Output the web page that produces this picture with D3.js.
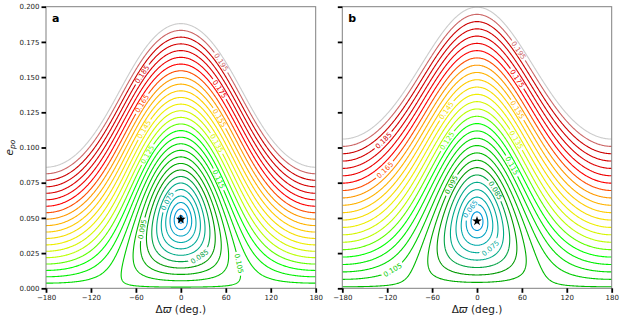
<!DOCTYPE html>
<html><head><meta charset="utf-8">
<script src="https://cdn.jsdelivr.net/npm/d3@7"></script>
<style>body{margin:0;background:#fff;} text{font-family:"DejaVu Sans",sans-serif;}</style>
</head><body><svg id="chart" width="623" height="321"></svg>
<script>
// ---------------- data ----------------
const panelNames = ["a", "b"];
const levels = [0.055,0.060,0.065,0.070,0.075,0.080,0.085,0.090,0.095,0.100,0.105,0.110,0.115,0.120,
  0.125,0.130,0.135,0.140,0.145,0.150,0.155,0.160,0.165,0.170,0.175,0.180,0.185,0.190,0.195,0.200];
const colorRange = [0, 0.2];
const xTicks = [-180,-120,-60,0,60,120,180];
const xTickLabels = ["\u2212180","\u2212120","\u221260","0","60","120","180"];
const yTicks = [0,0.025,0.05,0.075,0.1,0.125,0.15,0.175,0.2];
const yTickLabels = ["0.000","0.025","0.050","0.075","0.100","0.125","0.150","0.175","0.200"];
// secular (Laplace-Lagrange like) model fitted to each panel: [offset, linear, quadratic, stretch, forced e]
const modelA = [0.052, 1.1102, -0.1918, 1.04, 0.049];
const modelB = [0.0537, 0.946, 0.0667, 1.0, 0.0477];
const starA = [0, 0.049];
const starB = [0, 0.0477];
// contour labels: [level, delta-varpi, e]
const labelsA = [[0.195,52,0.160],[0.185,-45.7,0.150],[0.175,49.8,0.141],[0.165,-45.7,0.129],[0.155,49,0.120],
  [0.145,-43.6,0.111],[0.135,47.6,0.103],[0.125,-41,0.094],[0.115,48.8,0.077],[0.105,69.7,0.0166],
  [0.095,-48,0.0415],[0.085,23,0.0237],[0.075,-17,0.0616]];
const labelsB = [[0.195,57.3,0.1696],[0.185,-122.7,0.1042],[0.175,55,0.1495],[0.165,-122.7,0.084],[0.155,55,0.127],
  [0.145,-42.7,0.127],[0.135,52.9,0.1055],[0.125,-42.7,0.1055],[0.115,50.7,0.088],[0.105,-118,0.0178],
  [0.095,-38,0.0747],[0.085,30.7,0.0712],[0.075,26.2,0.0225],[0.065,-16,0.059]];
// nipy_spectral colormap
const cmapStops = [0,0.05,0.1,0.15,0.2,0.25,0.3,0.35,0.4,0.45,0.5,0.55,0.6,0.65,0.7,0.75,0.8,0.85,0.9,0.95,1];
const cmapR = [0,0.4667,0.5333,0,0,0,0,0,0,0,0,0,0,0.7333,0.9333,1,1,1,0.8667,0.8,0.8];
const cmapG = [0,0,0,0,0,0.4667,0.6,0.6667,0.6667,0.6,0.7333,0.8667,1,1,0.9333,0.8,0.6,0,0,0,0.8];
const cmapB = [0,0.5333,0.6,0.6667,0.8667,0.8667,0.8667,0.6667,0.5333,0,0,0,0,0,0,0,0,0,0,0,0.8];

// ---------------- drawing ----------------
const svg = d3.select("#chart");
const color = d3.scaleLinear()
  .domain(cmapStops.map(s => colorRange[0] + s*(colorRange[1]-colorRange[0])))
  .range(cmapStops.map((s,i) => d3.rgb(cmapR[i]*255, cmapG[i]*255, cmapB[i]*255).toString()));
const fmt = d3.format(".3f");

const panels = [
  {name: panelNames[0], x0: 46, x1: 315.7, model: modelA, star: starA, labels: labelsA, yLabels: true},
  {name: panelNames[1], x0: 342.3, x1: 611.7, model: modelB, star: starB, labels: labelsB, yLabels: false}
];
const yTop = 6.7, yBot = 288.3;

function field(m, th, e) {
  const [c, a, b, s, ef] = m;
  const G = a*e + b*e*e, Gf = a*ef + b*ef*ef;
  const t = th*Math.PI/180;
  const X = G*Math.cos(t) - Gf, Y = G*Math.sin(t)/s;
  return c + Math.sqrt(X*X + Y*Y);
}

const th0 = -200, dth = 1, nx = 401;
const e0 = -0.01, de = 0.0005, ny = 481;

const defs = svg.append("defs");

panels.forEach((p, pi) => {
  const x = d3.scaleLinear().domain([-180, 180]).range([p.x0, p.x1]);
  const y = d3.scaleLinear().domain([0, 0.2]).range([yBot, yTop]);
  const values = new Float64Array(nx*ny);
  for (let j = 0; j < ny; j++) for (let i = 0; i < nx; i++)
    values[j*nx + i] = field(p.model, th0 + i*dth, e0 + j*de);
  const contours = d3.contours().size([nx, ny]).thresholds(levels)(values);
  const toPx = (gx, gy) => [x(th0 + (gx - 0.5)*dth), y(e0 + (gy - 0.5)*de)];
  const proj = d3.geoTransform({point(gx, gy) { const q = toPx(gx, gy); this.stream.point(q[0], q[1]); }});
  const path = d3.geoPath(proj);

  const clipId = "clip" + pi;
  defs.append("clipPath").attr("id", clipId).append("rect")
    .attr("x", p.x0).attr("y", yTop).attr("width", p.x1 - p.x0).attr("height", yBot - yTop);

  const g = svg.append("g").attr("clip-path", `url(#${clipId})`);
  const lab = svg.append("g");

  contours.forEach((ct, k) => {
    const lvl = levels[k];
    const col = color(lvl);
    const myLabels = p.labels.filter(l => Math.abs(l[0] - lvl) < 1e-6);
    let maskId = null;
    if (myLabels.length) {
      maskId = `mask${pi}_${k}`;
      const mask = defs.append("mask").attr("id", maskId).attr("maskUnits", "userSpaceOnUse")
        .attr("x", 0).attr("y", 0).attr("width", 623).attr("height", 321);
      mask.append("rect").attr("x", 0).attr("y", 0).attr("width", 623).attr("height", 321).attr("fill", "#fff");
      // collect pixel rings
      const rings = [];
      ct.coordinates.forEach(poly => poly.forEach(ring => rings.push(ring.map(pt => toPx(pt[0], pt[1])))));
      myLabels.forEach(l => {
        const tx = x(l[1]), ty = y(l[2]);
        let best = null, bd = Infinity;
        rings.forEach(r => r.forEach((q, qi) => {
          if (q[0] < p.x0 || q[0] > p.x1 || q[1] < yTop || q[1] > yBot) return;
          const d = (q[0]-tx)**2 + (q[1]-ty)**2;
          if (d < bd) { bd = d; best = [r, qi]; }
        }));
        if (!best) return;
        const [r, qi] = best;
        const pt = r[qi];
        // tangent from points ~4px away on each side
        let a = qi, b = qi;
        const n = r.length;
        for (let s = 0; s < n; s++) { a = (a - 1 + n) % n; if (Math.hypot(r[a][0]-pt[0], r[a][1]-pt[1]) > 5) break; }
        for (let s = 0; s < n; s++) { b = (b + 1) % n; if (Math.hypot(r[b][0]-pt[0], r[b][1]-pt[1]) > 5) break; }
        let ang = Math.atan2(r[b][1]-r[a][1], r[b][0]-r[a][0]) * 180/Math.PI;
        if (ang > 90) ang -= 180; if (ang < -90) ang += 180;
        const t = lab.append("text").text(fmt(lvl))
          .attr("transform", `translate(${pt[0]},${pt[1]}) rotate(${ang})`)
          .attr("text-anchor", "middle").attr("dy", "0.35em")
          .attr("font-size", 7).attr("fill", col);
        const w = t.node().getComputedTextLength() + 4;
        mask.append("rect").attr("x", -w/2).attr("y", -3.8).attr("width", w).attr("height", 7.6)
          .attr("fill", "#000").attr("transform", `translate(${pt[0]},${pt[1]}) rotate(${ang})`);
      });
    }
    const el = g.append("path").attr("d", path(ct)).attr("fill", "none")
      .attr("stroke", col).attr("stroke-width", 1.1).attr("stroke-linejoin", "round");
    if (maskId) el.attr("mask", `url(#${maskId})`);
  });

  // star
  svg.append("path").attr("d", d3.symbol().type(d3.symbolStar).size(30)())
    .attr("transform", `translate(${x(p.star[0])},${y(p.star[1])})`).attr("fill", "#000");

  // frame
  svg.append("rect").attr("x", p.x0).attr("y", yTop).attr("width", p.x1 - p.x0).attr("height", yBot - yTop)
    .attr("fill", "none").attr("stroke", "#808080").attr("stroke-width", 1);

  // axes
  const xAxis = d3.axisBottom(x).tickValues(xTicks).tickFormat((d, i) => xTickLabels[i]).tickSize(4.5).tickPadding(2.5);
  const gx = svg.append("g").attr("transform", `translate(0,${yBot})`).call(xAxis);
  const yAxis = d3.axisLeft(y).tickValues(yTicks).tickFormat((d, i) => p.yLabels ? yTickLabels[i] : "").tickSize(4.5).tickPadding(2);
  const gy = svg.append("g").attr("transform", `translate(${p.x0},0)`).call(yAxis);
  [gx, gy].forEach(ga => {
    ga.select(".domain").remove();
    ga.selectAll(".tick line").attr("stroke", "#000").attr("stroke-width", 1.8);
    ga.selectAll(".tick text").attr("font-size", 7).attr("fill", "#222").attr("font-family", "DejaVu Sans");
  });

  // panel letter
  svg.append("text").attr("x", p.x0 + 6).attr("y", 21.7).text(p.name)
    .attr("font-size", 11).attr("font-weight", "bold").attr("fill", "#000");

  // x label
  const xl = svg.append("text").attr("x", (p.x0 + p.x1)/2).attr("y", 313).attr("text-anchor", "middle")
    .attr("font-size", 10.5).attr("fill", "#222");
  xl.append("tspan").text("\u0394");
  xl.append("tspan").attr("font-style", "italic").text("\u03D6");
  xl.append("tspan").text(" (deg.)");

  if (p.yLabels) {
    const yl = svg.append("text").attr("transform", `translate(12.5,${(yTop+yBot)/2}) rotate(-90)`)
      .attr("text-anchor", "middle").attr("font-size", 10.5).attr("fill", "#222");
    yl.append("tspan").attr("font-style", "italic").text("e");
    yl.append("tspan").attr("font-style", "italic").attr("font-size", 7.5).attr("dy", 2.5).text("po");
  }
});
</script></body></html>
